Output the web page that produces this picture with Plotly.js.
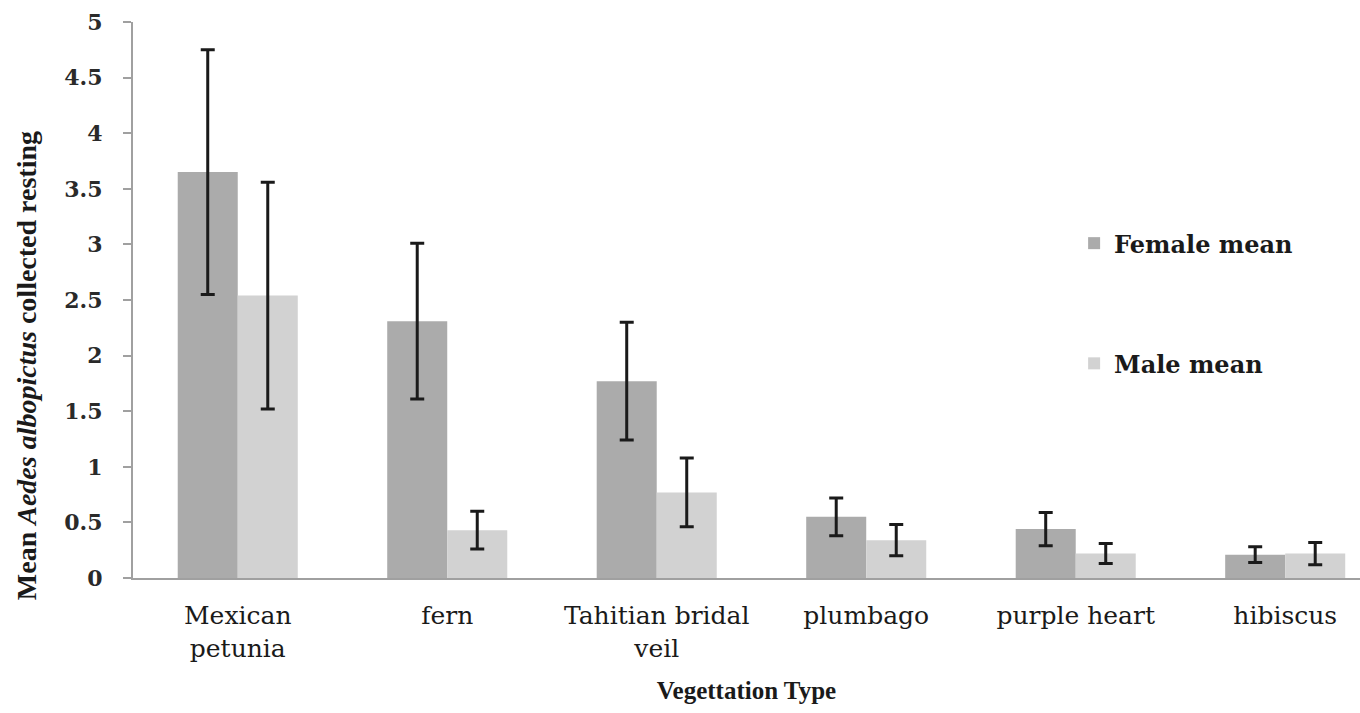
<!DOCTYPE html>
<html>
<head>
<meta charset="utf-8">
<script src="https://cdn.plot.ly/plotly-3.0.1.min.js"></script>
<style>html,body{margin:0;padding:0;background:#fff;}#chart{width:1360px;height:713px;}</style>
</head>
<body>
<div id="chart"></div>
<script>
const categories = ["Mexican<br>petunia", "fern", "Tahitian bridal<br>veil", "plumbago", "purple heart", "hibiscus"];
const femaleMean = [3.65, 2.31, 1.77, 0.55, 0.44, 0.21];
const femaleErr  = [1.10, 0.70, 0.53, 0.17, 0.15, 0.07];
const maleMean   = [2.54, 0.43, 0.77, 0.34, 0.22, 0.22];
const maleErr    = [1.02, 0.17, 0.31, 0.14, 0.09, 0.10];
const yTicks = [0, 0.5, 1, 1.5, 2, 2.5, 3, 3.5, 4, 4.5, 5];
const yTitle = "<b>Mean <i>Aedes albopictus</i> collected resting</b>";
const xTitle = "<b>Vegettation Type</b>";

const serif = "Liberation Serif, Times New Roman, serif";
const wide = "DejaVu Serif, serif";
const errStyle = {type: "data", visible: true, color: "#1a1a1a", thickness: 3, width: 7};

const traces = [
  {type: "bar", name: "<b>Female mean</b>", x: categories, y: femaleMean,
   marker: {color: "#ababab"}, legendgroup: "f",
   error_y: Object.assign({array: femaleErr}, errStyle)},
  {type: "bar", name: "<b>Male mean</b>", x: categories, y: maleMean,
   marker: {color: "#d2d2d2"}, legendgroup: "m",
   error_y: Object.assign({array: maleErr}, errStyle)}
];

const layout = {
  width: 1360, height: 713,
  margin: {l: 133, r: 0, t: 22, b: 135},
  paper_bgcolor: "#fff", plot_bgcolor: "#fff",
  barmode: "group", bargap: 0.427, bargroupgap: 0,
  font: {family: serif, color: "#222"},
  xaxis: {
    type: "category", range: [-0.5, 5.357],
    showline: true, linecolor: "#a0a0a0", linewidth: 2,
    ticks: "", showgrid: false, zeroline: false,
    ticklabelstandoff: 14,
    tickfont: {family: wide, size: 25, color: "#1a1a1a"},
    title: {text: xTitle, font: {family: serif, size: 25, color: "#1a1a1a"}, standoff: 20}
  },
  yaxis: {
    range: [0, 5], tickvals: yTicks, ticktext: yTicks.map(v => "<b>" + v + "</b>"),
    showline: true, linecolor: "#a0a0a0", linewidth: 2,
    ticks: "outside", ticklen: 8, tickcolor: "#a0a0a0", tickwidth: 2,
    showgrid: false, zeroline: false,
    ticklabelstandoff: 16,
    tickfont: {family: wide, size: 22, color: "#2a2a2a"}
  },
  annotations: [{
    text: yTitle, xref: "paper", yref: "paper", x: -0.0872, y: 0.381,
    xanchor: "center", yanchor: "middle", textangle: -90, showarrow: false,
    font: {family: serif, size: 28, color: "#1a1a1a"}
  }],
  showlegend: true,
  legend: {
    x: 0.767, y: 0.642, xanchor: "left", yanchor: "top",
    tracegroupgap: 86, traceorder: "grouped",
    font: {family: wide, size: 24, color: "#1a1a1a"},
    bgcolor: "rgba(0,0,0,0)"
  }
};

Plotly.newPlot("chart", traces, layout, {displayModeBar: false, staticPlot: true});
</script>
</body>
</html>
